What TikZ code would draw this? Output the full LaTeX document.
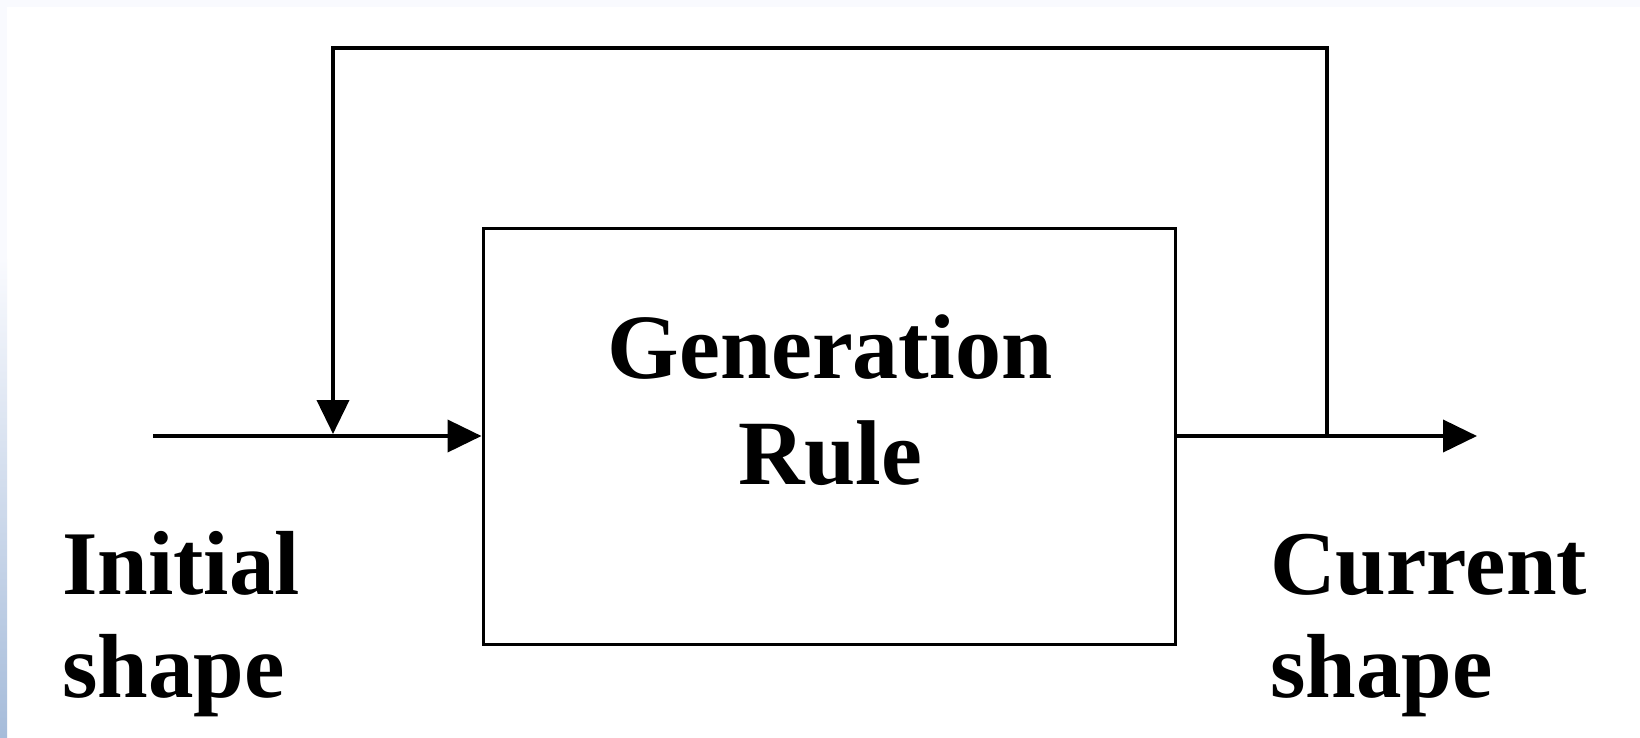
\documentclass[tikz,border=0pt]{standalone}
\usepackage{fontspec}
\setmainfont{Liberation Serif}
\usetikzlibrary{arrows.meta}
\definecolor{stripblue}{RGB}{166,188,218}
\definecolor{faint}{RGB}{249,250,254}
\tikzset{
  conn/.style={line width=4pt, draw=black},
  arr/.style={conn, -{Triangle[length=34pt,width=32pt]}},
  rulebox/.style={draw=black, line width=3pt, rectangle, minimum width=692pt, minimum height=416pt, inner sep=0pt},
  lbl/.style={font=\bfseries\fontsize{91}{105}\selectfont, inner sep=0pt, anchor=base west},
  ctr/.style={font=\bfseries\fontsize{92}{106}\selectfont, inner sep=0pt, anchor=base}
}
\begin{document}
\begin{tikzpicture}[x=1pt,y=-1pt]
\useasboundingbox (0,0) rectangle (1640,737);
\fill[white] (0,0) rectangle (1640,737);
\fill[faint] (0,0) rectangle (1640,7);
\fill[faint] (0,0) rectangle (7,260);
\shade[top color=faint, bottom color=stripblue] (0,259) rectangle (7,737);

\node[rulebox] (rule) at (829,436) {};
\node[ctr] (gen) at (830,378) {Generation};
\node[ctr] (rl) at (830,484) {Rule};

\node[lbl] (init1) at (62,594) {Initial};
\node[lbl] (init2) at (62,697) {shape};
\node[lbl] (cur1) at (1270,594) {Current};
\node[lbl] (cur2) at (1270,697) {shape};

\coordinate (in) at (153,436);
\coordinate (out) at (1477,436);
\coordinate (tap) at (1327,436);
\coordinate (tr) at (1327,48);
\coordinate (tl) at (333,48);
\coordinate (join) at (333,434);

\draw[arr] (in) -- (rule.west);
\draw[arr] (rule.east) -- (out);
\draw[arr] (tap) -- (tr) -- (tl) -- (join);
\end{tikzpicture}
\end{document}
